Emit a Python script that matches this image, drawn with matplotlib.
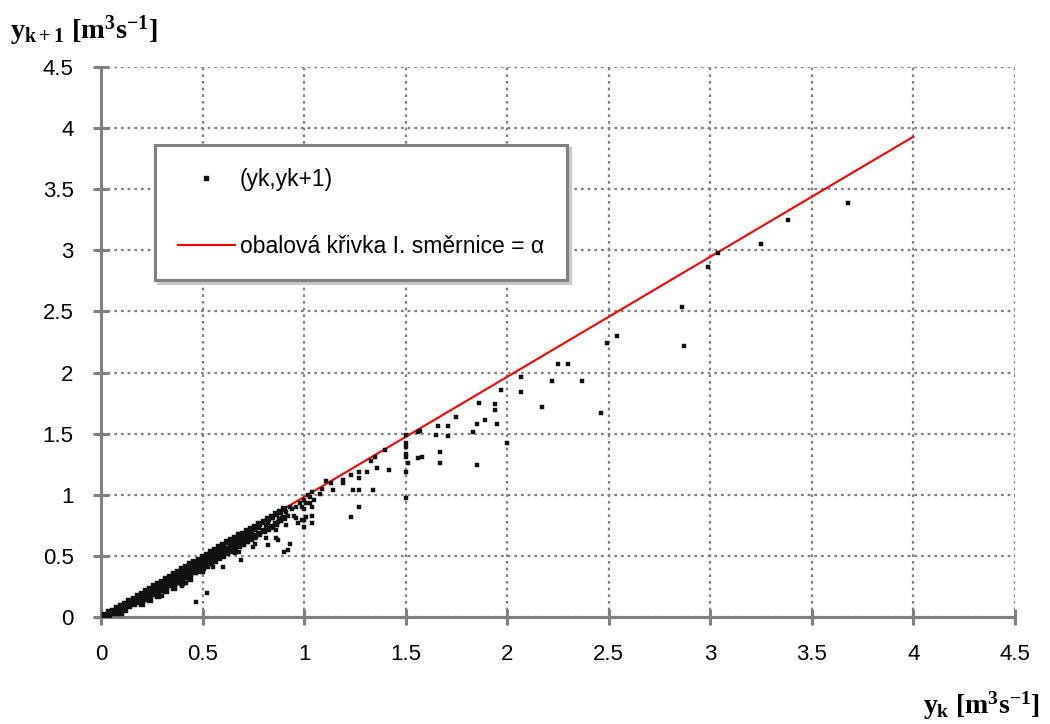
import matplotlib
matplotlib.use("Agg")
import matplotlib.pyplot as plt
from matplotlib.lines import Line2D
import numpy as np

# dense band of points close to the envelope line
yk_band = [0.02, 0.02, 0.04, 0.04, 0.06, 0.06, 0.08, 0.08, 0.08, 0.10, 0.10, 0.10,
           0.12, 0.12, 0.12, 0.14, 0.14, 0.14, 0.16, 0.16, 0.16, 0.18, 0.18, 0.18,
           0.20, 0.20, 0.20, 0.20, 0.22, 0.22, 0.22, 0.24, 0.24, 0.24, 0.24,
           0.26, 0.26, 0.26, 0.28, 0.28, 0.28, 0.28, 0.30, 0.30, 0.30,
           0.32, 0.32, 0.32, 0.32, 0.34, 0.34, 0.34, 0.36, 0.36, 0.36, 0.36,
           0.38, 0.38, 0.38, 0.40, 0.40, 0.40, 0.40, 0.42, 0.42, 0.42,
           0.44, 0.44, 0.44, 0.44, 0.46, 0.46, 0.46, 0.48, 0.48, 0.48,
           0.50, 0.50, 0.50, 0.52, 0.52, 0.52, 0.54, 0.54, 0.54, 0.56, 0.56, 0.56,
           0.58, 0.58, 0.58, 0.60, 0.60, 0.60, 0.62, 0.62, 0.62, 0.64, 0.64, 0.64,
           0.66, 0.66, 0.66, 0.68, 0.68, 0.68, 0.70, 0.70, 0.70, 0.72, 0.72, 0.72,
           0.74, 0.74, 0.74, 0.76, 0.76, 0.78, 0.78, 0.80, 0.80, 0.82, 0.82,
           0.84, 0.84, 0.86, 0.86, 0.88, 0.88, 0.90, 0.90,
           0.15, 0.25, 0.35, 0.45, 0.55, 0.65, 0.33, 0.43, 0.53, 0.63, 0.73]
yk1_band = [0.01, 0.02, 0.02, 0.04, 0.03, 0.05, 0.05, 0.07, 0.03, 0.06, 0.09, 0.03,
            0.08, 0.11, 0.06, 0.09, 0.13, 0.11, 0.11, 0.15, 0.13, 0.12, 0.17, 0.14,
            0.13, 0.19, 0.16, 0.11, 0.15, 0.21, 0.18, 0.17, 0.23, 0.20, 0.14,
            0.19, 0.25, 0.22, 0.20, 0.27, 0.24, 0.17, 0.22, 0.29, 0.26,
            0.24, 0.31, 0.27, 0.21, 0.26, 0.33, 0.29, 0.27, 0.35, 0.31, 0.24,
            0.29, 0.37, 0.33, 0.31, 0.39, 0.35, 0.28, 0.33, 0.41, 0.37,
            0.35, 0.43, 0.39, 0.31, 0.37, 0.45, 0.41, 0.38, 0.47, 0.43,
            0.40, 0.49, 0.45, 0.42, 0.51, 0.47, 0.44, 0.53, 0.49, 0.46, 0.55, 0.50,
            0.48, 0.57, 0.52, 0.50, 0.59, 0.55, 0.52, 0.61, 0.56, 0.54, 0.63, 0.58,
            0.56, 0.65, 0.60, 0.58, 0.67, 0.62, 0.60, 0.68, 0.64, 0.62, 0.70, 0.66,
            0.64, 0.72, 0.68, 0.66, 0.74, 0.68, 0.76, 0.70, 0.78, 0.72, 0.80,
            0.74, 0.82, 0.76, 0.84, 0.79, 0.86, 0.81, 0.88,
            0.12, 0.21, 0.30, 0.39, 0.48, 0.57, 0.28, 0.37, 0.46, 0.55, 0.65]

# scattered points
yk_pts = [3.68, 3.38, 3.25, 3.04, 2.99, 2.86, 2.54, 2.49, 2.87, 2.25, 2.30, 2.07,
          2.22, 2.37, 1.97, 2.07, 1.86, 1.94, 1.94, 2.17, 2.46, 1.75, 1.89, 1.85,
          1.95, 1.66, 1.71, 1.57, 1.65, 1.71, 1.83, 2.00, 1.50, 1.67, 1.58, 1.56,
          1.50, 1.51, 1.67, 1.85, 1.50, 1.50, 1.56, 1.50, 1.50, 1.50,
          1.40, 1.35, 1.33, 1.36, 1.42, 1.31, 1.27, 1.27, 1.23, 1.19, 1.19, 1.24,
          1.27, 1.34, 1.13, 1.11, 1.14, 1.09, 1.08, 1.03, 1.05, 1.01, 1.00, 0.98,
          0.96, 0.94, 1.04, 1.00, 1.01, 1.04, 1.27, 1.23, 0.99, 0.95, 1.00,
          1.04, 1.02, 1.03, 0.99, 0.93, 0.91, 0.92, 0.96, 1.00, 1.04, 0.97, 0.91,
          0.87, 0.86, 0.89, 0.84, 0.82, 0.81, 0.78, 0.76, 0.76, 0.81, 0.86, 0.87,
          0.76, 0.72, 0.75, 0.93, 0.90, 0.68, 0.66, 0.69, 0.60, 0.55, 0.48, 0.50,
          0.47, 0.92, 0.82, 0.52, 0.47, 0.30, 0.40, 0.42, 0.38, 0.10]
yk1_pts = [3.39, 3.25, 3.05, 2.98, 2.86, 2.54, 2.30, 2.24, 2.22, 2.07, 2.07, 1.96,
           1.93, 1.93, 1.86, 1.84, 1.75, 1.74, 1.69, 1.72, 1.67, 1.64, 1.61, 1.58,
           1.58, 1.56, 1.56, 1.52, 1.49, 1.48, 1.51, 1.42, 1.39, 1.35, 1.31, 1.30,
           1.31, 1.26, 1.26, 1.24, 1.19, 1.49, 1.51, 1.42, 1.33, 0.97,
           1.37, 1.31, 1.28, 1.22, 1.20, 1.19, 1.19, 1.14, 1.16, 1.12, 1.10, 1.04,
           1.04, 1.04, 1.10, 1.11, 1.04, 1.05, 1.01, 0.98, 0.96, 0.93, 0.96, 0.93,
           0.90, 0.88, 0.90, 0.88, 0.82, 0.83, 0.90, 0.82, 0.79, 0.83, 0.74,
           1.02, 1.00, 0.93, 0.90, 0.90, 0.86, 0.83, 0.81, 0.79, 0.77, 0.77, 0.75,
           0.78, 0.71, 0.81, 0.81, 0.77, 0.74, 0.73, 0.71, 0.65, 0.65, 0.65, 0.63,
           0.60, 0.61, 0.57, 0.60, 0.53, 0.53, 0.52, 0.47, 0.41, 0.41, 0.41, 0.37,
           0.36, 0.55, 0.59, 0.20, 0.12, 0.17, 0.25, 0.28, 0.28, 0.03]

# envelope line (slope alpha)
env_x = [0.0, 4.0]
env_y = [0.0, 3.93]

ticks = [0, 0.5, 1, 1.5, 2, 2.5, 3, 3.5, 4, 4.5]
tick_labels = ["0", "0.5", "1", "1.5", "2", "2.5", "3", "3.5", "4", "4.5"]

gray = "#808080"
plt.rcParams["mathtext.fontset"] = "custom"
plt.rcParams["mathtext.rm"] = "Liberation Serif:bold"
plt.rcParams["mathtext.it"] = "Liberation Serif:bold"
plt.rcParams["mathtext.bf"] = "Liberation Serif:bold"

fig = plt.figure(figsize=(10.5, 7.24), dpi=100)
ax = fig.add_axes([0.0962, 0.1478, 0.8705, 0.7597])

ax.plot(env_x, env_y, color="#ff0000", lw=1.5, zorder=2)
ax.plot(yk_band, yk1_band, ls="none", marker="s",
        ms=3.8, mec="#111111", mfc="#111111", mew=0.3, zorder=3)
ax.plot(yk_pts, yk1_pts, ls="none", marker="s",
        ms=2.9, mec="#111111", mfc="#111111", mew=0.3, zorder=3)

ax.set_xlim(0, 4.5)
ax.set_ylim(0, 4.5)
ax.set_xticks(ticks)
ax.set_xticklabels(tick_labels)
ax.set_yticks(ticks)
ax.set_yticklabels(tick_labels)
ax.grid(True, color=gray, lw=1.6, ls=(0, (1.2, 1.8)), zorder=0)
ax.set_axisbelow(True)
for s in ["top", "right"]:
    ax.spines[s].set_visible(False)
for s in ["left", "bottom"]:
    ax.spines[s].set_color(gray)
    ax.spines[s].set_linewidth(2.2)
ax.tick_params(direction="inout", length=11.5, width=2.2, color=gray,
               labelsize=16, pad=14)
for lab in ax.get_xticklabels() + ax.get_yticklabels():
    lab.set_fontfamily("Liberation Sans")

handles = [Line2D([], [], ls="none", marker="s", ms=2.9, color="#111111"),
           Line2D([], [], color="#ff0000", lw=1.5)]
leg = ax.legend(handles, ["(yk,yk+1)", "obalová křivka I. směrnice = α"],
                loc="upper left", bbox_to_anchor=(0.059, 0.858),
                borderaxespad=0, labelspacing=1.9, borderpad=1.0,
                handlelength=2.5, handletextpad=0.2, fancybox=False,
                framealpha=1, edgecolor=gray,
                shadow={"color": "#c8c8c8", "alpha": 1},
                prop={"family": "Liberation Sans", "size": 16.5})
leg.get_frame().set_linewidth(2.2)

fig.text(0.01, 0.958, r"$y_{k+1}$ [m$^3$s$^{-1}$]", fontsize=20.5,
         fontfamily="Liberation Serif", fontweight="bold", va="center", ha="left")
fig.text(0.99, 0.025, r"$y_k$ [m$^3$s$^{-1}$]", fontsize=20,
         fontfamily="Liberation Serif", fontweight="bold", va="center", ha="right")

fig.savefig("out.png", dpi=100)
